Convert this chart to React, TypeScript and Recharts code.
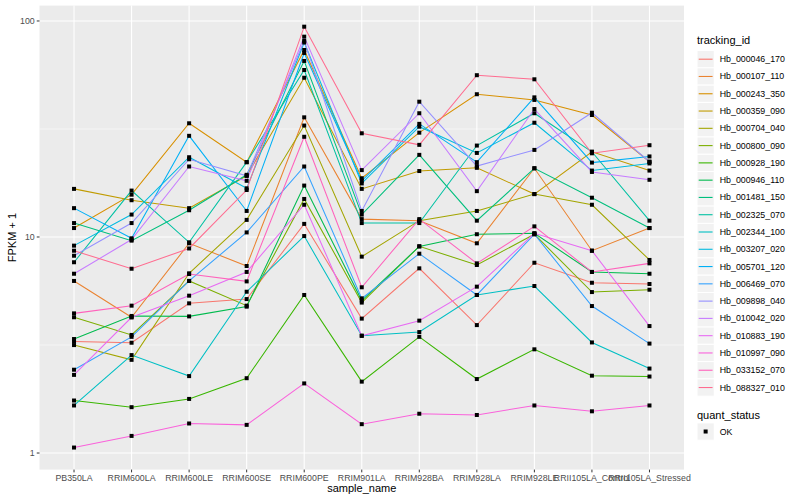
import React from 'react';
import { LineChart, Line, XAxis, YAxis, CartesianGrid } from 'recharts';

const categories = ['PB350LA', 'RRIM600LA', 'RRIM600LE', 'RRIM600SE', 'RRIM600PE', 'RRIM901LA', 'RRIM928BA', 'RRIM928LA', 'RRIM928LE', 'RRII105LA_Control', 'RRII105LA_Stressed'];

const hb_000046_170 = [3.28, 3.24, 4.93, 5.16, 11.5, 4.19, 7.16, 3.91, 7.6, 6.14, 6.06];
const hb_000107_110 = [6.26, 4.25, 9.35, 7.34, 35.8, 12.1, 11.9, 9.35, 20.8, 8.64, 11.0];
const hb_000243_350 = [11.0, 15.7, 33.6, 22.2, 73.4, 18.7, 30.4, 45.8, 43.1, 36.7, 22.3];
const hb_000359_090 = [16.7, 14.8, 13.6, 19.2, 54.6, 16.7, 20.2, 20.9, 15.8, 24.8, 20.3];
const hb_000704_040 = [3.16, 2.7, 6.79, 12.0, 32.8, 8.11, 11.9, 13.2, 15.8, 14.1, 7.83];
const hb_000800_090 = [4.25, 3.52, 6.26, 4.81, 15.0, 4.97, 9.06, 7.42, 10.3, 5.56, 5.7];
const hb_000928_190 = [1.75, 1.63, 1.78, 2.22, 5.39, 2.14, 3.45, 2.2, 3.02, 2.28, 2.26];
const hb_000946_110 = [3.37, 4.31, 4.29, 4.76, 17.3, 5.08, 9.04, 10.3, 10.4, 6.89, 6.76];
const hb_001481_150 = [11.6, 9.62, 13.3, 19.4, 65.3, 12.7, 24.0, 11.9, 20.8, 15.2, 11.0];
const hb_002325_070 = [7.64, 16.4, 9.45, 22.2, 59.3, 11.6, 11.6, 26.5, 37.4, 24.8, 11.9];
const hb_002344_100 = [1.66, 2.84, 2.27, 5.58, 10.1, 3.49, 3.63, 5.39, 5.93, 3.25, 2.46];
const hb_003207_020 = [9.12, 12.7, 23.4, 16.8, 79.5, 17.7, 32.4, 24.5, 33.8, 20.3, 21.9];
const hb_005701_120 = [13.6, 9.86, 29.4, 13.2, 71.1, 18.2, 33.4, 22.2, 44.3, 22.1, 23.6];
const hb_006469_070 = [2.43, 3.45, 6.26, 10.5, 21.2, 5.2, 8.37, 5.39, 10.3, 4.79, 3.21];
const hb_009898_040 = [8.19, 11.6, 22.9, 19.2, 80.8, 13.2, 42.3, 21.3, 25.3, 37.6, 22.3];
const hb_010042_020 = [6.76, 9.73, 21.2, 18.2, 84.6, 20.4, 37.4, 16.3, 39.1, 20.0, 18.4];
const hb_010883_190 = [2.3, 4.25, 5.35, 6.89, 14.1, 3.49, 4.1, 5.89, 10.4, 8.64, 3.87];
const hb_010997_090 = [1.06, 1.2, 1.37, 1.35, 2.1, 1.36, 1.52, 1.5, 1.66, 1.56, 1.66];
const hb_033152_070 = [4.43, 4.81, 6.74, 6.23, 29.1, 5.85, 12.1, 7.55, 11.2, 6.89, 7.55];
const hb_088327_010 = [8.64, 7.13, 8.85, 16.5, 94.1, 30.2, 26.7, 56.1, 53.7, 24.4, 26.6];

const seriesIds = ['Hb_000046_170', 'Hb_000107_110', 'Hb_000243_350', 'Hb_000359_090', 'Hb_000704_040', 'Hb_000800_090', 'Hb_000928_190', 'Hb_000946_110', 'Hb_001481_150', 'Hb_002325_070', 'Hb_002344_100', 'Hb_003207_020', 'Hb_005701_120', 'Hb_006469_070', 'Hb_009898_040', 'Hb_010042_020', 'Hb_010883_190', 'Hb_010997_090', 'Hb_033152_070', 'Hb_088327_010'];
const seriesValues = [hb_000046_170, hb_000107_110, hb_000243_350, hb_000359_090, hb_000704_040, hb_000800_090, hb_000928_190, hb_000946_110, hb_001481_150, hb_002325_070, hb_002344_100, hb_003207_020, hb_005701_120, hb_006469_070, hb_009898_040, hb_010042_020, hb_010883_190, hb_010997_090, hb_033152_070, hb_088327_010];
const seriesColors = ['#F8766D', '#EA8331', '#D89000', '#C09B00', '#A3A500', '#7CAE00', '#39B600', '#00BB4E', '#00BF7D', '#00C1A3', '#00BFC4', '#00BAE0', '#00B0F6', '#35A2FF', '#9590FF', '#C77CFF', '#E76BF3', '#FA62DB', '#FF62BC', '#FF6C90'];

const yTicks = [1, 10, 100];
const yMinorTicks = [3.1623, 31.623];
const xTicks = categories.map((_, i) => i);
const statusLabels = ['OK'];

const data = categories.map((name, i) => {
  const row: any = { idx: i, name };
  seriesIds.forEach((id, s) => {
    row[id] = seriesValues[s][i];
  });
  return row;
});

const FONT = "'Liberation Sans', Arial, Helvetica, sans-serif";

const SquareDot = (props: any) => {
  const { cx, cy } = props;
  if (cx == null || cy == null) return null;
  return <rect x={cx - 2} y={cy - 2} width={4} height={4} fill="#000" />;
};

const YTitle = (props: any) => {
  const vb = props.viewBox || { x: 0, y: 0, width: 0, height: 0 };
  const cy = vb.y + vb.height / 2;
  return (
    <text x={12} y={cy} transform={`rotate(-90, 12, ${cy})`} textAnchor="middle" dominantBaseline="central" fontSize={11} fill="#000" fontFamily={FONT}>
      FPKM + 1
    </text>
  );
};

const XTitle = (props: any) => {
  const vb = props.viewBox || { x: 0, y: 0, width: 0, height: 0 };
  const cx = vb.x + vb.width / 2;
  return (
    <text x={cx} y={492} textAnchor="middle" fontSize={11} fill="#000" fontFamily={FONT}>
      sample_name
    </text>
  );
};

const Legend = () => {
  const keyX = 697;
  const keySize = 17.28;
  const firstCenter = 59.2;
  const step = 17.28;
  const lastCenter = firstCenter + (seriesIds.length - 1) * step;
  const qTitleY = lastCenter + 27;
  const qKeyCenter = qTitleY + 17;
  return (
    <svg width={800} height={500} style={{ position: 'absolute', left: 0, top: 0, pointerEvents: 'none' }}>
      <text x={keyX} y={44} fontSize={11} fill="#000" fontFamily={FONT}>tracking_id</text>
      {seriesIds.map((id, i) => {
        const cy = firstCenter + i * step;
        return (
          <g key={id}>
            <rect x={keyX} y={cy - keySize / 2} width={keySize} height={keySize} fill="#F2F2F2" stroke="#FFFFFF" strokeWidth={1} />
            <line x1={keyX + 1.7} x2={keyX + keySize - 1.7} y1={cy} y2={cy} stroke={seriesColors[i]} strokeWidth={1.1} />
            <text x={keyX + keySize + 5.5} y={cy} dominantBaseline="central" fontSize={8.8} fill="#000" fontFamily={FONT}>{id}</text>
          </g>
        );
      })}
      <text x={keyX} y={qTitleY + 4} fontSize={11} fill="#000" fontFamily={FONT}>quant_status</text>
      {statusLabels.map((s, i) => {
        const cy = qKeyCenter + i * step;
        return (
          <g key={s}>
            <rect x={keyX} y={cy - keySize / 2} width={keySize} height={keySize} fill="#F2F2F2" stroke="#FFFFFF" strokeWidth={1} />
            <rect x={keyX + keySize / 2 - 2} y={cy - 2} width={4} height={4} fill="#000" />
            <text x={keyX + keySize + 5.5} y={cy} dominantBaseline="central" fontSize={8.8} fill="#000" fontFamily={FONT}>{s}</text>
          </g>
        );
      })}
    </svg>
  );
};

export default function App() {
  return (
    <div style={{ position: 'absolute', left: 0, top: 0, width: 800, height: 500, background: '#fff', fontFamily: FONT }}>
      <LineChart width={800} height={500} data={data} margin={{ top: 5.6, right: 116, bottom: 0, left: 0 }}>
        <CartesianGrid fill="#EBEBEB" stroke="#FFFFFF" strokeWidth={0.55} horizontalValues={yMinorTicks} vertical={false} />
        <CartesianGrid stroke="#FFFFFF" strokeWidth={1.1} horizontalValues={yTicks} verticalValues={xTicks} />
        <XAxis
          dataKey="idx"
          type="number"
          domain={[-0.6, 10.6]}
          ticks={xTicks}
          interval={0}
          tickFormatter={(v: number) => categories[v]}
          height={30.4}
          axisLine={false}
          tickSize={2.75}
          tickMargin={2}
          tickLine={{ stroke: '#333333' }}
          tick={{ fontSize: 8.8, fill: '#4D4D4D', fontFamily: FONT }}
          label={<XTitle />}
          allowDataOverflow
        />
        <YAxis
          type="number"
          scale="log"
          domain={[0.838, 117.8]}
          ticks={yTicks}
          interval={0}
          width={39.5}
          axisLine={false}
          tickSize={2.75}
          tickMargin={2}
          tickLine={{ stroke: '#333333' }}
          tick={{ fontSize: 8.8, fill: '#4D4D4D', fontFamily: FONT }}
          label={<YTitle />}
          allowDataOverflow
        />
        {seriesIds.map((id, i) => (
          <Line key={id} dataKey={id} type="linear" stroke={seriesColors[i]} strokeWidth={1.05} dot={false} activeDot={false} isAnimationActive={false} />
        ))}
        {seriesIds.map((id) => (
          <Line key={id + '_pts'} dataKey={id} type="linear" stroke="none" dot={<SquareDot />} activeDot={false} isAnimationActive={false} legendType="none" />
        ))}
      </LineChart>
      <Legend />
    </div>
  );
}
